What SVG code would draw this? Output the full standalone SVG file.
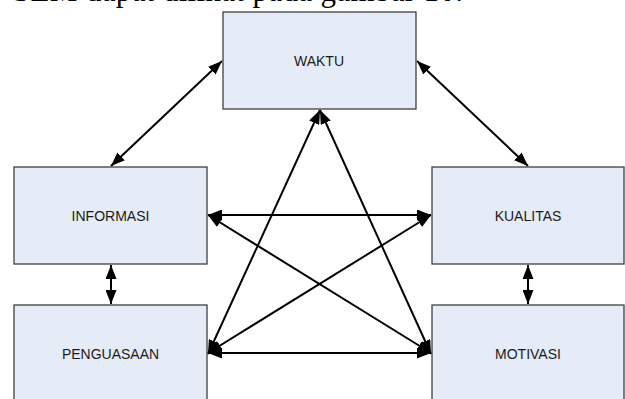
<svg xmlns="http://www.w3.org/2000/svg" width="625" height="399" viewBox="0 0 625 399">
<defs>
<style>
.box{fill:#E6ECF7;stroke:#404040;stroke-width:1.3}
.lbl{font-family:"Liberation Sans",Arial,sans-serif;font-size:14px;fill:#1a1a1a;text-anchor:middle}
.con line{stroke:#000;stroke-width:2;marker-start:url(#ah);marker-end:url(#ah)}
.cap{font-family:"Liberation Serif","Times New Roman",serif;font-size:31px;fill:#000}
</style>
<marker id="ah" viewBox="0 0 14 11" refX="14" refY="5.5" markerWidth="14" markerHeight="11" markerUnits="userSpaceOnUse" orient="auto-start-reverse">
<path d="M0,0 L14,5.5 L0,11 Z" fill="#000"/>
</marker>
</defs>
<rect width="625" height="399" fill="#fff"/>
<text class="cap" x="13" y="1" textLength="450" lengthAdjust="spacing">SEM dapat dilihat pada gambar 10.</text>
<g id="connectors" class="con">
<line x1="111" y1="166" x2="222" y2="61"/>
<line x1="417" y1="61" x2="528" y2="166"/>
<line x1="320" y1="110" x2="208" y2="354"/>
<line x1="320" y1="110" x2="431" y2="354"/>
<line x1="208" y1="215" x2="431" y2="215"/>
<line x1="208" y1="353" x2="431" y2="353"/>
<line x1="208" y1="215" x2="431" y2="353"/>
<line x1="431" y1="215" x2="208" y2="353"/>
<line x1="111" y1="265" x2="111" y2="304"/>
<line x1="528" y1="265" x2="528" y2="304"/>
</g>
<g id="waktu"><rect class="box" x="223" y="12" width="193" height="97"/><text class="lbl" x="319" y="65.5">WAKTU</text></g>
<g id="informasi"><rect class="box" x="14" y="167" width="193" height="97"/><text class="lbl" x="110.5" y="220.5">INFORMASI</text></g>
<g id="kualitas"><rect class="box" x="432" y="167" width="192" height="97"/><text class="lbl" x="528" y="220.5">KUALITAS</text></g>
<g id="penguasaan"><rect class="box" x="14" y="305" width="193" height="97"/><text class="lbl" x="110.5" y="359">PENGUASAAN</text></g>
<g id="motivasi"><rect class="box" x="432" y="305" width="192" height="97"/><text class="lbl" x="528" y="359">MOTIVASI</text></g>
</svg>
